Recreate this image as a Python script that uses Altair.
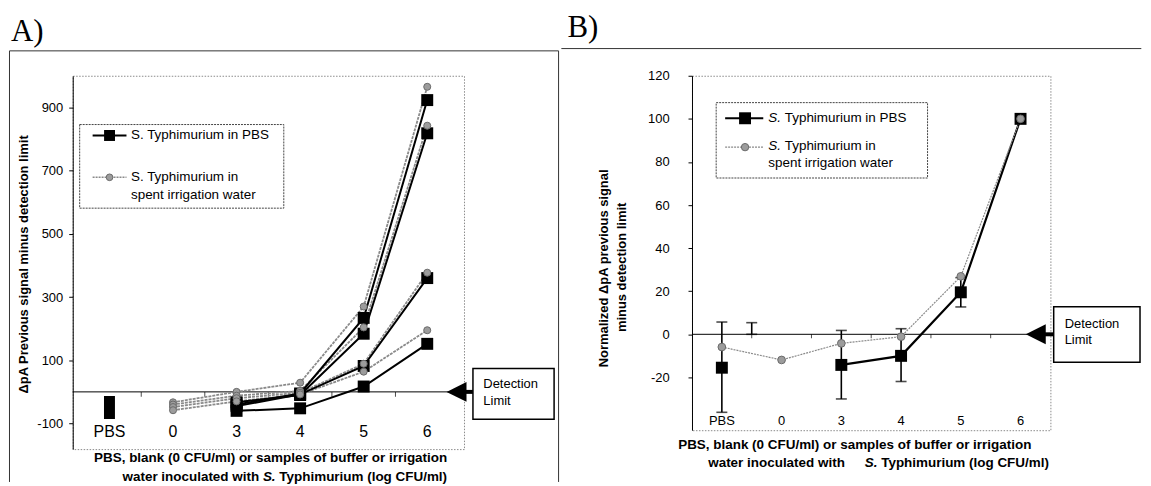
import altair as alt
import pandas as pd

FONT = "Liberation Sans"
SERIF = "Liberation Serif"

# ---------------- data ----------------
CATS = ["PBS", "0", "3", "4", "5", "6"]
CAT_POS = [0, 1, 2, 3, 4, 5]
BOUNDARIES = [0.5, 1.5, 2.5, 3.5, 4.5]

# Panel A: replicate experiments (delta pA minus detection limit)
A_PBS_X = [2, 3, 4, 5]
A_PBS_P1 = [-40, -5, 234, 923]
A_PBS_P2 = [-33, -10, 184, 818]
A_PBS_P3 = [-45, -8, 82, 360]
A_PBS_P4 = [-60, -52, 17, 152]

A_IRR_X = [1, 2, 3, 4, 5]
A_IRR_I1 = [-33, 0, 29, 270, 965]
A_IRR_I2 = [-40, -12, 3, 204, 842]
A_IRR_I3 = [-48, -20, -3, 89, 377]
A_IRR_I4 = [-58, -30, -8, 64, 195]

A_BLANK_RANGE = [-86, -13]   # PBS blank column (overlapping squares)

# Panel B: normalised means with error bars
B_PBS_X = [0, 2, 3, 4, 5]
B_PBS_Y = [-15.5, -14.2, -10.0, 19.5, 100]
B_PBS_LINE_X = [2, 3, 4, 5]
B_PBS_LINE_Y = [-14.2, -10.0, 19.5, 100]
B_ERR_X = [0, 0.5, 2, 3, 4]
B_ERR_LO = [-36.2, 0, -30.0, -21.9, 12.7]
B_ERR_HI = [5.7, 5.4, 1.8, 2.6, 26.3]

B_IRR_X = [0, 1, 2, 3, 4, 5]
B_IRR_Y = [-5.9, -11.9, -4.2, -1.1, 26.9, 100]

DETECTION_LIMIT = 0

# ---------------- helpers ----------------
ONE = pd.DataFrame({"k": [0]})


def one():
    return alt.Chart(ONE)


def text(s, x, y, size=13, weight="normal", style="normal", align="left",
         angle=0, font=FONT, baseline="middle"):
    return one().mark_text(text=s, align=align, baseline=baseline, fontSize=size,
                           fontWeight=weight, fontStyle=style, angle=angle,
                           font=font, color="black").encode(
        x=alt.value(x), y=alt.value(y))


def hline(x1, x2, y, color="black", width=1, dash=None):
    kw = dict(color=color, strokeWidth=width)
    if dash:
        kw["strokeDash"] = dash
    return one().mark_rule(**kw).encode(x=alt.value(x1), x2=alt.value(x2), y=alt.value(y))


def vline(x, y1, y2, color="black", width=1):
    return one().mark_rule(color=color, strokeWidth=width).encode(
        x=alt.value(x), y=alt.value(y1), y2=alt.value(y2))


def box(x1, x2, y1, y2, stroke="black", width=1.5, dash=None, fill="white", opacity=1):
    kw = dict(fill=fill, stroke=stroke, strokeWidth=width, opacity=opacity)
    if dash:
        kw["strokeDash"] = dash
    return one().mark_rect(**kw).encode(x=alt.value(x1), x2=alt.value(x2),
                                        y=alt.value(y1), y2=alt.value(y2))


def anchor(x1, x2, y1, y2):
    return one().mark_rect(fill="white", opacity=0).encode(
        x=alt.value(x1), x2=alt.value(x2), y=alt.value(y1), y2=alt.value(y2))


def long_df(xs, series):
    rows = []
    for name, vals in series.items():
        for x, v in zip(xs, vals):
            rows.append({"x": x, "v": v, "rep": name})
    return pd.DataFrame(rows)


TRI = "M-1,0L1,-1L1,1Z"
GREY_FILL = "#9c9c9c"
GREY_STROKE = "#6a6a6a"
GREY_LINE = "#8a8a8a"
SP = 3.75  # width of a space at 13.5px
LABEL_EXPR = "'' + datum.value"

zero_df = pd.DataFrame({"v": [DETECTION_LIMIT]})
bnd_df = pd.DataFrame({"x": BOUNDARIES, "v": [DETECTION_LIMIT] * len(BOUNDARIES)})
cats_df = pd.DataFrame({"x": CAT_POS, "lab": CATS})

# ---------------- panel A ----------------
WA, HA = 393, 375
XA = alt.Scale(domain=[-0.5, 5.5], nice=False, zero=False)
YA = alt.Scale(domain=[-181, 1000], nice=False, zero=False)
AXA = alt.Axis(values=[-100, 100, 300, 500, 700, 900], title=None, grid=False,
               tickSize=4, tickColor="black", domainColor="black", labelPadding=6,
               labelFontSize=13, labelFont=FONT, labelColor="#000000", domainWidth=1,
               labelExpr=LABEL_EXPR)

a_pbs = long_df(A_PBS_X, {"P1": A_PBS_P1, "P2": A_PBS_P2, "P3": A_PBS_P3, "P4": A_PBS_P4})
a_irr = long_df(A_IRR_X, {"I1": A_IRR_I1, "I2": A_IRR_I2, "I3": A_IRR_I3, "I4": A_IRR_I4})
a_blank = pd.DataFrame({"x": [0], "v": [A_BLANK_RANGE[0]], "hi": [A_BLANK_RANGE[1]]})

xa = alt.X("x:Q", scale=XA, axis=None)
ya = alt.Y("v:Q", scale=YA, axis=AXA)

A_layers = [
    anchor(-64, 488, -62, 400),
    # outer frame
    hline(-63.5, 488, -25, color="#333", width=1),
    vline(-63.5, -25, 408, color="#333", width=1),
    vline(488, -25, 408, color="#333", width=1),
    text("A)", -62, -35, size=31, font=SERIF, baseline="alphabetic"),
    # zero line / detection limit
    alt.Chart(zero_df).mark_rule(color="black", strokeWidth=1).encode(y=ya),
    alt.Chart(bnd_df).mark_tick(orient="vertical", size=5, thickness=1, yOffset=2.5, color="black").encode(
        x=xa, y=ya),
    # data
    alt.Chart(a_irr).mark_line(color=GREY_LINE, strokeWidth=1.8, strokeDash=[3, 1]).encode(
        x=xa, y=ya, detail="rep:N"),
    alt.Chart(a_pbs).mark_line(color="black", strokeWidth=2).encode(
        x=xa, y=ya, detail="rep:N"),
    alt.Chart(a_pbs).mark_square(size=144, color="black", opacity=1).encode(x=xa, y=ya),
    alt.Chart(a_irr).mark_circle(size=50, fill=GREY_FILL, stroke=GREY_STROKE, strokeWidth=1, opacity=1).encode(
        x=xa, y=ya),
    alt.Chart(a_blank).mark_bar(size=11, color="black").encode(x=xa, y=ya, y2="hi:Q"),
    # category labels
    alt.Chart(cats_df).mark_text(fontSize=16, font=FONT, baseline="middle", color="black").encode(
        x=xa, y=alt.value(358), text="lab:N"),
    # legend
    box(7, 212, 49, 133, stroke="#444", width=1, dash=[2, 1]),
    hline(20, 54, 60, color="black", width=2),
    one().mark_square(size=121, color="black", opacity=1).encode(x=alt.value(37), y=alt.value(60)),
    text("S. Typhimurium in PBS", 58.5, 60, size=13.5),
    hline(20, 54, 102, color=GREY_LINE, width=1.5, dash=[2, 1]),
    one().mark_circle(size=45, fill=GREY_FILL, stroke=GREY_STROKE, strokeWidth=1, opacity=1).encode(
        x=alt.value(37), y=alt.value(102)),
    text("S. Typhimurium in", 58.5, 101.7, size=13.5),
    text("spent irrigation water", 58.5, 119.3, size=13.5),
    # detection limit
    alt.Chart(zero_df).mark_point(shape=TRI, size=400, filled=True, color="black", opacity=1).encode(
        x=alt.value(385.5), y=ya),
    alt.Chart(zero_df).mark_rule(color="black", strokeWidth=4).encode(
        x=alt.value(393), x2=alt.value(402), y=ya),
    box(402, 483.5, 294, 345, stroke="black", width=1.5),
    text("Detection", 412.4, 310, size=13),
    text("Limit", 412.4, 326.7, size=13),
    # axis titles
    text("\u0394pA Previous signal minus detection limit", -49, 189.5, size=13, weight="bold", angle=270,
         align="center"),
    text("PBS, blank (0 CFU/ml) or samples of buffer or irrigation", 198.8, 384, size=13.5,
         weight="bold", align="center"),
    text("water inoculated with", 191 - SP, 402.7, size=13.5, weight="bold", align="right"),
    text("S.", 191, 402.7, size=13.5, weight="bold", style="italic"),
    text("Typhimurium (log CFU/ml)", 191 + 12.8 + SP, 402.7, size=13.5, weight="bold"),
]
panelA = alt.layer(*A_layers).properties(width=WA, height=HA)

# ---------------- panel B ----------------
WB, HB = 360, 356
XB = alt.Scale(domain=[-0.5, 5.5], nice=False, zero=False)
YB = alt.Scale(domain=[-44.5, 120], nice=False, zero=False)
AXB = alt.Axis(values=[-20, 0, 20, 40, 60, 80, 100, 120], title=None, grid=False,
               tickSize=4, tickColor="black", domainColor="black", labelPadding=19,
               labelFontSize=13, labelFont=FONT, labelColor="#000000", domainWidth=1,
               labelExpr=LABEL_EXPR)
xb = alt.X("x:Q", scale=XB, axis=None)
yb = alt.Y("v:Q", scale=YB, axis=AXB)

b_pbs = pd.DataFrame({"x": B_PBS_X, "v": B_PBS_Y})
b_pbs_line = pd.DataFrame({"x": B_PBS_LINE_X, "v": B_PBS_LINE_Y})
b_err = pd.DataFrame({"x": B_ERR_X, "v": B_ERR_LO, "hi": B_ERR_HI})
b_err_hi = pd.DataFrame({"x": B_ERR_X, "v": B_ERR_HI})
b_irr = pd.DataFrame({"x": B_IRR_X, "v": B_IRR_Y})

B_layers = [
    anchor(-131.2, 451.3, -66, 396),
    hline(-131.2, 451.3, -27.3, color="#333", width=1),
    text("B)", -125, -39, size=31, font=SERIF, baseline="alphabetic"),
    alt.Chart(zero_df).mark_rule(color="black", strokeWidth=1).encode(y=yb),
    alt.Chart(bnd_df).mark_tick(orient="vertical", size=4, thickness=1, yOffset=2, color="black").encode(
        x=xb, y=yb),
    # error bars
    alt.Chart(b_err).mark_rule(color="black", strokeWidth=1.6).encode(x=xb, y=yb, y2="hi:Q"),
    alt.Chart(b_err).mark_tick(orient="horizontal", size=11, thickness=1.6, color="black").encode(x=xb, y=yb),
    alt.Chart(b_err_hi).mark_tick(orient="horizontal", size=11, thickness=1.6, color="black").encode(x=xb, y=yb),
    # lines and markers
    alt.Chart(b_pbs_line).mark_line(color="black", strokeWidth=2.2).encode(x=xb, y=yb),
    alt.Chart(b_irr).mark_line(color=GREY_LINE, strokeWidth=1.2, strokeDash=[2, 1]).encode(x=xb, y=yb),
    alt.Chart(b_pbs).mark_square(size=144, color="black", opacity=1).encode(x=xb, y=yb),
    alt.Chart(b_irr).mark_circle(size=60, fill=GREY_FILL, stroke=GREY_STROKE, strokeWidth=1, opacity=1).encode(
        x=xb, y=yb),
    alt.Chart(cats_df).mark_text(fontSize=13, font=FONT, baseline="middle", color="black").encode(
        x=xb, y=alt.value(347), text="lab:N"),
    # legend
    box(24.3, 236.6, 27, 102.7, stroke="#444", width=1, dash=[2, 1]),
    hline(33.3, 71.6, 42.7, color="black", width=2),
    one().mark_square(size=144, color="black", opacity=1).encode(x=alt.value(53.3), y=alt.value(42.7)),
    text("S.", 76.6, 42.7, size=13.5, style="italic"),
    text("Typhimurium in PBS", 76.6 + 12.8 + SP, 42.7, size=13.5),
    hline(33.3, 71.6, 71.7, color=GREY_LINE, width=1.2, dash=[2, 1]),
    one().mark_circle(size=55, fill=GREY_FILL, stroke=GREY_STROKE, strokeWidth=1, opacity=1).encode(
        x=alt.value(53.3), y=alt.value(71.7)),
    text("S.", 76.6, 70.3, size=13.5, style="italic"),
    text("Typhimurium in", 76.6 + 12.8 + SP, 70.3, size=13.5),
    text("spent irrigation water", 76.6, 87.7, size=13.5),
    # detection limit
    alt.Chart(zero_df).mark_point(shape=TRI, size=400, filled=True, color="black", opacity=1).encode(
        x=alt.value(345.3), y=yb),
    alt.Chart(zero_df).mark_rule(color="black", strokeWidth=4).encode(
        x=alt.value(354), x2=alt.value(363.3), y=yb),
    box(363.3, 450, 232, 287.7, stroke="black", width=1.5),
    text("Detection", 374.3, 249.3, size=13),
    text("Limit", 374.3, 265.3, size=13),
    # axis titles
    text("Normalized \u0394pA previous signal", -88.4, 193.5, size=13, weight="bold", angle=270, align="center"),
    text("minus detection limit", -69.8, 192.5, size=13, weight="bold", angle=270, align="center"),
    text("PBS, blank (0 CFU/ml) or samples of buffer or irrigation", 163.5, 371, size=13.5,
         weight="bold", align="center"),
    text("water inoculated with", 16.3, 389.3, size=13.5, weight="bold"),
    text("S.", 173.5, 389.3, size=13.5, weight="bold", style="italic"),
    text("Typhimurium (log CFU/ml)", 173.5 + 12.8 + SP, 389.3, size=13.5, weight="bold"),
]
panelB = alt.layer(*B_layers).properties(width=WB, height=HB)

chart = alt.hconcat(panelA, panelB, spacing=0).properties(
    padding=0, background="white"
).configure_view(
    stroke="#8a8a8a", strokeDash=[1.5, 1.5], strokeWidth=1
).configure_text(font=FONT)

chart.save("out.html", embed_options={"renderer": "svg", "actions": False})
